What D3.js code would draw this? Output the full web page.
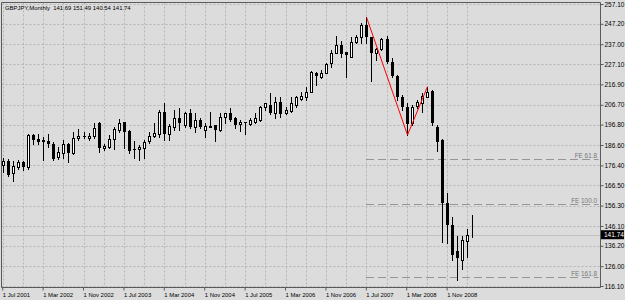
<!DOCTYPE html>
<html><head><meta charset="utf-8">
<script src="https://cdn.jsdelivr.net/npm/d3@7/dist/d3.min.js"></script>
<style>body{margin:0;background:#dcdcdc}svg{display:block}</style>
</head><body><svg id="c" width="625" height="300"></svg>
<script>
const symbol = "GBPJPY,Monthly";
const opens  = [176.6,178.6,172.6,175.6,178.1,175.6,191.6,189.4,188.9,188.6,187.0,180.5,182.5,187.0,182.8,190.3,191.3,190.3,191.1,197.5,185.0,185.8,189.6,194.1,198.0,193.8,184.5,184.5,185.3,188.6,191.1,192.0,203.3,192.0,195.8,200.0,196.6,202.5,195.8,199.1,194.1,195.8,196.6,194.1,200.5,202.5,200.0,197.0,198.3,197.1,198.3,199.1,205.8,206.6,202.5,208.3,202.5,203.8,206.6,209.6,210.8,213.3,222.8,220.8,222.8,227.5,232.8,236.6,233.3,230.8,238.3,240.5,246.6,240.5,232.8,234.5,239.5,228.3,221.1,210.8,205.8,197.5,206.1,207.8,210.8,213.6,195.8,189.1,157.8,146.6,133.6,129.1,138.8,141.69];
const highs  = [180.1,179.6,178.6,179.0,178.6,192.1,192.1,192.0,190.4,192.1,188.3,185.8,189.1,187.5,193.0,194.6,193.0,192.5,197.5,198.3,187.1,191.6,195.5,199.5,198.3,194.1,188.8,186.6,189.1,193.0,197.8,204.1,207.5,197.0,204.1,205.0,203.3,204.5,202.5,200.1,197.5,203.3,196.6,202.6,202.6,205.0,200.5,199.1,198.3,200.0,202.8,206.1,207.8,212.8,210.8,210.8,205.8,210.5,211.1,213.3,215.8,223.6,223.3,224.1,227.8,234.1,241.1,238.8,233.3,240.8,241.6,247.8,250.5,240.8,235.0,240.0,241.1,230.0,221.6,211.6,207.5,206.6,209.1,212.5,215.8,214.1,196.6,189.5,162.8,150.8,141.1,141.1,144.5,151.49];
const lows   = [173.1,170.9,168.6,174.5,174.1,174.6,187.1,187.1,179.1,185.8,179.1,179.5,180.0,178.3,182.1,189.1,190.0,189.1,190.0,183.3,184.1,185.3,184.5,193.3,185.0,182.8,180.0,179.1,180.0,187.8,190.8,190.8,189.1,189.1,194.1,194.1,195.8,195.0,193.0,195.1,190.8,195.8,188.8,193.6,197.6,198.8,195.0,193.8,192.1,196.6,197.5,198.8,204.1,202.1,200.0,200.5,202.1,203.3,205.8,209.1,209.1,213.0,216.6,220.0,222.5,225.8,232.5,230.5,220.5,230.5,237.5,237.5,237.5,218.8,229.1,234.1,227.5,220.8,209.1,204.1,191.6,196.6,205.0,203.3,210.8,196.6,183.8,138.3,137.5,129.1,119.1,124.5,130.8,140.54];
const closes = [178.6,171.8,176.1,178.1,175.6,191.6,189.1,188.1,188.1,187.0,179.6,183.3,187.0,182.8,190.3,191.3,190.5,191.1,195.3,185.3,186.1,189.5,194.5,197.8,193.3,183.6,184.1,185.8,188.3,191.1,192.5,203.3,192.0,196.1,200.0,197.5,202.5,195.8,199.1,195.8,196.3,196.3,194.1,200.8,202.5,199.1,196.6,198.3,197.5,199.1,200.0,205.8,207.5,202.5,208.3,202.1,204.1,207.5,210.5,211.3,213.3,223.3,221.1,222.8,227.1,232.5,236.6,232.1,231.6,238.3,240.5,246.6,240.5,232.8,234.5,239.5,228.3,221.1,210.8,205.8,197.1,205.8,208.3,211.1,213.3,197.5,188.3,157.8,146.6,131.6,130.0,139.1,141.6,141.74];
const priceTicks = [257.10,247.20,237.00,227.10,216.90,206.70,196.80,186.60,176.40,166.50,156.30,146.10,136.20,126.00,116.10];
const timeTickLabels = ["1 Jul 2001","1 Mar 2002","1 Nov 2002","1 Jul 2003","1 Mar 2004","1 Nov 2004","1 Jul 2005","1 Mar 2006","1 Nov 2006","1 Jul 2007","1 Mar 2008","1 Nov 2008"];
const timeTickIndex = [0,8,16,24,32,40,48,56,64,72,80,88];
const zigzagIndex = [72,80,84];
const feRatios = [0.618,1.0,1.618];
const feLabels = ["FE 61.8","FE 100.0","FE 161.8"];

const W=625,H=300;
const L=1.5,R=600.5,T=2.5,B=287.5;
const svg=d3.select("#c");
const FONT='"Liberation Sans", Arial, sans-serif';
const n=opens.length;
const idx=d3.range(n);
const step=5.05;
const x=d3.scaleBand().domain(idx).range([0.2,0.2+step*n]).paddingInner(0);
const cx=i=>x(i)+x.bandwidth()/2;
const y=d3.scaleLinear().domain([116.1,257.1]).range([286,4]);

function fitSize(str,target){
  const t=svg.append("text").attr("font-family",FONT).style("white-space","pre").text(str);
  let s=7;
  for(let k=0;k<8;k++){
    t.attr("font-size",s+"px");
    const w=t.node().getBBox().width;
    if(Math.abs(w-target)<0.4) break;
    s*=target/w;
  }
  t.remove();
  return s;
}
const titleStr=`${symbol}  ${opens[n-1].toFixed(2)} ${highs[n-1].toFixed(2)} ${lows[n-1].toFixed(2)} ${closes[n-1].toFixed(2)}`;
const axisFs=fitSize("1 Mar 2002",30);
const priceFs=fitSize("257.10",20);
const titleFs=fitSize(titleStr,126);
const feFs=fitSize("FE 100.0",26);

svg.append("rect").attr("width",W).attr("height",H).attr("fill","#dcdcdc");

// grid
const gridColor="#b5b5b5";
const gv=svg.append("g");
idx.filter(i=>i%4===0).forEach(i=>{
  const gx=Math.round(cx(i))+0.5;
  gv.append("line").attr("x1",gx).attr("x2",gx)
    .attr("y1",T).attr("y2",B).attr("stroke",gridColor).attr("stroke-dasharray","2,2");
});
priceTicks.forEach(p=>{
  const yy=Math.round(y(p))+0.5;
  gv.append("line").attr("x1",L).attr("x2",R).attr("y1",yy).attr("y2",yy)
    .attr("stroke",gridColor).attr("stroke-dasharray","2,2");
});

// bid line
const last=closes[n-1];
svg.append("line").attr("x1",L).attr("x2",R)
  .attr("y1",Math.round(y(last))+0.5).attr("y2",Math.round(y(last))+0.5)
  .attr("stroke","#c2c2c2");

// FE levels
const A=highs[zigzagIndex[0]],Bp=lows[zigzagIndex[1]],C=highs[zigzagIndex[2]];
const feG=svg.append("g");
feRatios.forEach((r,k)=>{
  const lvl=C-r*(A-Bp);
  const yy=Math.round(y(lvl))+0.5;
  feG.append("line").attr("x1",Math.round(cx(zigzagIndex[0]))).attr("x2",R-2).attr("y1",yy).attr("y2",yy)
    .attr("stroke","#959595").attr("stroke-dasharray","8,4");
  feG.append("text").attr("x",597).attr("y",yy-1.5).attr("text-anchor","end")
    .attr("font-family",FONT).attr("font-size",feFs+"px").attr("fill","#787878").text(feLabels[k]);
});

// candles
const cg=svg.append("g");
idx.forEach(i=>{
  const xc=Math.round(cx(i))+0.5;
  const yh=Math.round(y(highs[i])), yl=Math.round(y(lows[i]));
  const yo=Math.round(y(opens[i])), yc=Math.round(y(closes[i]));
  const top=Math.min(yo,yc), bot=Math.max(yo,yc);
  cg.append("line").attr("x1",xc).attr("x2",xc).attr("y1",yh).attr("y2",yl+1).attr("stroke","#000");
  if(closes[i]>=opens[i]){
    cg.append("rect").attr("x",xc-1).attr("y",top+0.5).attr("width",2).attr("height",Math.max(bot-top,0))
      .attr("fill","#fff").attr("stroke","#000");
  } else {
    cg.append("rect").attr("x",xc-1.5).attr("y",top).attr("width",3).attr("height",Math.max(bot-top,1))
      .attr("fill","#000");
  }
});

// zigzag
const zz=zigzagIndex.map((i,k)=>[Math.round(cx(i))+0.5, y(k===1?lows[i]:highs[i])]);
svg.append("path").attr("d",d3.line()(zz)).attr("fill","none").attr("stroke","#ff0000").attr("stroke-width",1);

// frame
const fc="#5a5a5a";
svg.append("path").attr("d",`M${L},${B}V${T}H${R}V${B}H${L}`).attr("fill","none").attr("stroke",fc);

// price axis
const ay=svg.append("g").attr("transform",`translate(${R},0)`)
  .call(d3.axisRight(y).tickValues(priceTicks).tickSize(3).tickPadding(1).tickFormat(d3.format(".2f")));
ay.select(".domain").remove();
ay.selectAll("line").attr("stroke",fc);
ay.selectAll("text").attr("font-family",FONT).attr("font-size",priceFs+"px").attr("fill","#000");

// bid label
const by=y(last);
svg.append("rect").attr("x",601).attr("y",by-4.5).attr("width",23).attr("height",9).attr("fill","#000");
svg.append("text").attr("x",604).attr("y",by).attr("dy","0.32em").attr("font-family",FONT)
  .attr("font-size",priceFs+"px").attr("fill","#fff").text(last.toFixed(2));

// time axis
const ax=svg.append("g").attr("transform",`translate(0,${B})`)
  .call(d3.axisBottom(x).tickValues(timeTickIndex).tickSize(3).tickFormat((d,k)=>timeTickLabels[k]));
ax.select(".domain").remove();
ax.selectAll("line").attr("stroke",fc);
ax.selectAll("text").attr("text-anchor","start").attr("x",0).attr("y",5).attr("dy","0.71em")
  .attr("font-family",FONT).attr("font-size",axisFs+"px").attr("fill","#000");

// title
svg.append("text").attr("x",5).attr("y",10).attr("font-family",FONT).attr("font-size",titleFs+"px")
  .attr("fill","#000").style("white-space","pre").text(titleStr);
</script></body></html>
